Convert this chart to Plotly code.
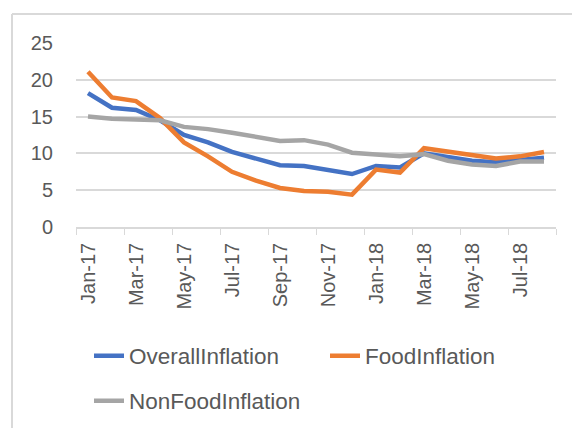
import plotly.graph_objects as go

months = ["Jan-17", "Feb-17", "Mar-17", "Apr-17", "May-17", "Jun-17", "Jul-17", "Aug-17",
          "Sep-17", "Oct-17", "Nov-17", "Dec-17", "Jan-18", "Feb-18", "Mar-18", "Apr-18",
          "May-18", "Jun-18", "Jul-18", "Aug-18"]
overall = [18.2, 16.2, 15.9, 14.5, 12.5, 11.5, 10.2, 9.3, 8.4, 8.3, 7.8, 7.2,
           8.3, 8.1, 10.0, 9.5, 9.0, 8.8, 9.1, 9.4]
food = [21.1, 17.6, 17.1, 14.8, 11.5, 9.6, 7.5, 6.3, 5.3, 4.9, 4.8, 4.4,
        7.8, 7.4, 10.7, 10.2, 9.7, 9.3, 9.6, 10.2]
nonfood = [15.0, 14.7, 14.6, 14.5, 13.6, 13.3, 12.8, 12.3, 11.7, 11.8, 11.2, 10.1,
           9.8, 9.6, 9.9, 9.0, 8.5, 8.3, 8.9, 8.9]
y_ticks = [0, 5, 10, 15, 20, 25]

FONT = "Liberation Sans"
TXT = "#595959"

fig = go.Figure()
fig.add_trace(go.Scatter(x=months, y=overall, mode="lines", name="OverallInflation",
                         line=dict(color="#4472C4", width=4.5), legend="legend"))
fig.add_trace(go.Scatter(x=months, y=food, mode="lines", name="FoodInflation",
                         line=dict(color="#ED7D31", width=4.5), legend="legend2"))
fig.add_trace(go.Scatter(x=months, y=nonfood, mode="lines", name="NonFoodInflation",
                         line=dict(color="#A5A5A5", width=4.5), legend="legend3"))

# chart-area border (top and left edges visible)
fig.add_shape(type="line", xref="paper", yref="paper", x0=-0.1333, x1=-0.1333, y0=-1.2, y1=1.158,
              line=dict(color="#D9D9D9", width=2))
fig.add_shape(type="line", xref="paper", yref="paper", x0=-0.1333, x1=1.2, y0=1.158, y1=1.158,
              line=dict(color="#D9D9D9", width=2))

LF = dict(family=FONT, size=22.5, color=TXT)


def leg(xpx, ypx):
    return dict(orientation="h", xref="container", yref="container",
                x=xpx / 580, y=1 - ypx / 428, xanchor="left", yanchor="middle",
                itemwidth=30, font=LF, bgcolor="rgba(0,0,0,0)", borderwidth=0)


fig.update_layout(
    width=580, height=428,
    margin=dict(l=68, r=32, t=35, b=209, autoexpand=False),
    paper_bgcolor="white", plot_bgcolor="white",
    font=dict(family=FONT, color=TXT, size=20),
    showlegend=True,
    legend=leg(81, 348),
    legend2=leg(317, 348),
    legend3=leg(81, 393),
    xaxis=dict(type="category", range=[-0.5, 19.5], tickangle=-90, dtick=2,
               tickson="boundaries", ticks="outside", ticklen=6, tickcolor="#D9D9D9",
               showline=True, linecolor="#D9D9D9", linewidth=1.5, showgrid=False,
               automargin=False, ticklabelstandoff=6,
               tickfont=dict(family=FONT, size=20, color=TXT)),
    yaxis=dict(range=[0, 25], tickvals=y_ticks, showgrid=True, gridcolor="#D9D9D9",
               gridwidth=1.5, zeroline=False, showline=False, ticks="",
               automargin=False,
               ticklabelstandoff=22, tickfont=dict(family=FONT, size=20, color=TXT)),
)

fig.write_html("out.html")
